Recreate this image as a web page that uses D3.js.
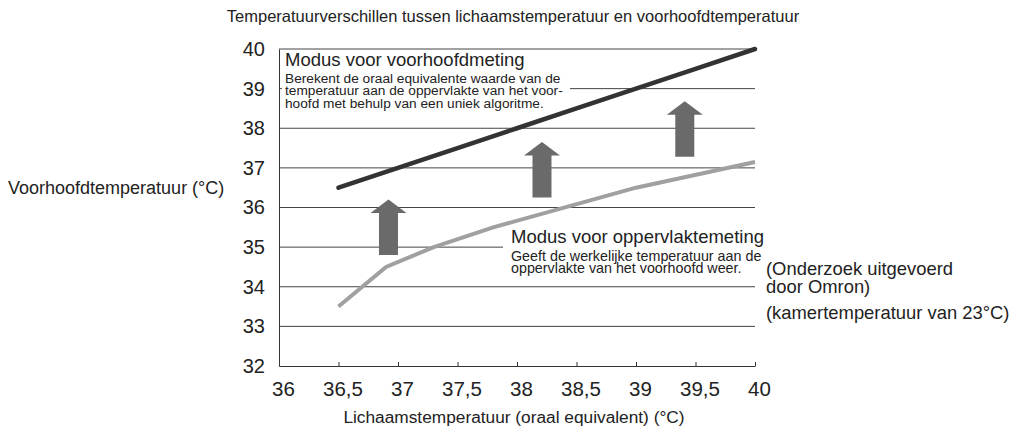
<!DOCTYPE html>
<html>
<head>
<meta charset="utf-8">
<script src="https://cdn.jsdelivr.net/npm/d3@7"></script>
<style>
  body { margin: 0; background: #fff; }
  svg { font-family: "Liberation Sans", Arial, sans-serif; }
</style>
</head>
<body>
<svg id="chart" width="1016" height="431"></svg>
<script>
// data
const xTicks = [36, 36.5, 37, 37.5, 38, 38.5, 39, 39.5, 40];
const yTicks = [32, 33, 34, 35, 36, 37, 38, 39, 40];
const bodyTemp = [36.5, 37, 37.5, 38, 38.5, 39, 39.5, 40];
const foreheadMode = [36.5, 37, 37.5, 38, 38.5, 39, 39.5, 40];
const surfaceX = [36.5, 36.9, 37.3, 37.8, 39, 40];
const surfaceMode = [33.5, 34.5, 35.0, 35.5, 36.5, 37.15];
const arrowX = [36.92, 38.21, 39.41];
const arrowFrom = [34.8, 36.25, 37.28];
const arrowTo = [36.2, 37.65, 38.68];

const svg = d3.select("#chart");
const x = d3.scaleLinear().domain([36, 40]).range([279, 755]);
const y = d3.scaleLinear().domain([32, 40]).range([366, 49]);
const fmt = d => String(d).replace(".", ",");

// title
svg.append("text")
  .attr("x", 513).attr("y", 22)
  .attr("text-anchor", "middle")
  .style("font-size", "16.5px")
  .style("fill", "#222")
  .text("Temperatuurverschillen tussen lichaamstemperatuur en voorhoofdtemperatuur");

// gridlines
svg.append("g")
  .selectAll("line")
  .data(yTicks.filter(d => d > 32))
  .join("line")
  .attr("x1", x(36)).attr("x2", x(40))
  .attr("y1", d => y(d)).attr("y2", d => y(d))
  .attr("stroke", "#444")
  .attr("stroke-width", 1);

// y axis
const yAxis = svg.append("g")
  .attr("transform", `translate(${x(36)},0)`)
  .call(d3.axisLeft(y).tickValues(yTicks).tickSize(0).tickPadding(14).tickFormat(fmt));
yAxis.select(".domain").attr("stroke", "#333");
yAxis.selectAll("text").style("font-size", "20px").style("font-family", "inherit").attr("fill", "#222");

// x axis
const xAxis = svg.append("g")
  .attr("transform", `translate(0,${y(32)})`)
  .call(d3.axisBottom(x).tickValues(xTicks).tickSizeInner(-4).tickSizeOuter(0).tickPadding(15).tickFormat(fmt));
xAxis.select(".domain").attr("stroke", "#333");
xAxis.selectAll(".tick line").attr("stroke", "#333");
xAxis.selectAll("text").style("font-size", "20.5px").style("font-family", "inherit").attr("fill", "#222").attr("dx", 4);

// axis titles
svg.append("text")
  .attr("x", 8).attr("y", 194)
  .style("font-size", "18px").style("fill", "#222")
  .text("Voorhoofdtemperatuur (°C)");
svg.append("text")
  .attr("x", 514).attr("y", 423)
  .attr("text-anchor", "middle")
  .style("font-size", "17.3px").style("fill", "#222")
  .text("Lichaamstemperatuur (oraal equivalent) (°C)");

// white boxes behind annotations
svg.append("rect").attr("x", 282).attr("y", 51).attr("width", 288).attr("height", 57).attr("fill", "#fff");
svg.append("rect").attr("x", 503).attr("y", 229).attr("width", 260).attr("height", 48).attr("fill", "#fff");

// arrows
const headW = 36, shaftW = 19, headH = 13.5;
svg.append("g")
  .selectAll("path")
  .data(arrowX.map((d, i) => ({ x: d, from: arrowFrom[i], to: arrowTo[i] })))
  .join("path")
  .attr("d", d => {
    const cx = x(d.x), top = y(d.to), bot = y(d.from), hb = top + headH;
    return `M${cx},${top}L${cx + headW / 2},${hb}L${cx + shaftW / 2},${hb}L${cx + shaftW / 2},${bot}` +
      `L${cx - shaftW / 2},${bot}L${cx - shaftW / 2},${hb}L${cx - headW / 2},${hb}Z`;
  })
  .attr("fill", "#6a6a6a");

// lines
const line = d3.line().x(d => x(d[0])).y(d => y(d[1]));
svg.append("path")
  .datum(surfaceX.map((d, i) => [d, surfaceMode[i]]))
  .attr("d", line)
  .attr("fill", "none")
  .attr("stroke", "#a0a0a0")
  .attr("stroke-width", 4);
svg.append("path")
  .datum(bodyTemp.map((d, i) => [d, foreheadMode[i]]))
  .attr("d", line)
  .attr("fill", "none")
  .attr("stroke", "#333")
  .attr("stroke-width", 4.5)
  .attr("stroke-linecap", "round");

// annotations
const note1 = svg.append("text").style("fill", "#222");
note1.append("tspan").attr("x", 285).attr("y", 66).style("font-size", "18.5px").text("Modus voor voorhoofdmeting");
["Berekent de oraal equivalente waarde van de",
 "temperatuur aan de oppervlakte van het voor-",
 "hoofd met behulp van een uniek algoritme."].forEach((t, i) => {
  note1.append("tspan").attr("x", 285).attr("y", 83 + i * 12.3).style("font-size", "13.7px").text(t);
});

const note2 = svg.append("text").style("fill", "#222");
note2.append("tspan").attr("x", 511).attr("y", 243).style("font-size", "18.5px").text("Modus voor oppervlaktemeting");
["Geeft de werkelijke temperatuur aan de",
 "oppervlakte van het voorhoofd weer."].forEach((t, i) => {
  note2.append("tspan").attr("x", 511).attr("y", 260.5 + i * 12.3).style("font-size", "14.3px").text(t);
});

const note3 = svg.append("text").style("fill", "#222").style("font-size", "18.4px");
[["(Onderzoek uitgevoerd", 275], ["door Omron)", 293], ["(kamertemperatuur van 23°C)", 319]].forEach(([t, yy]) => {
  note3.append("tspan").attr("x", 766).attr("y", yy).text(t);
});
</script>
</body>
</html>
